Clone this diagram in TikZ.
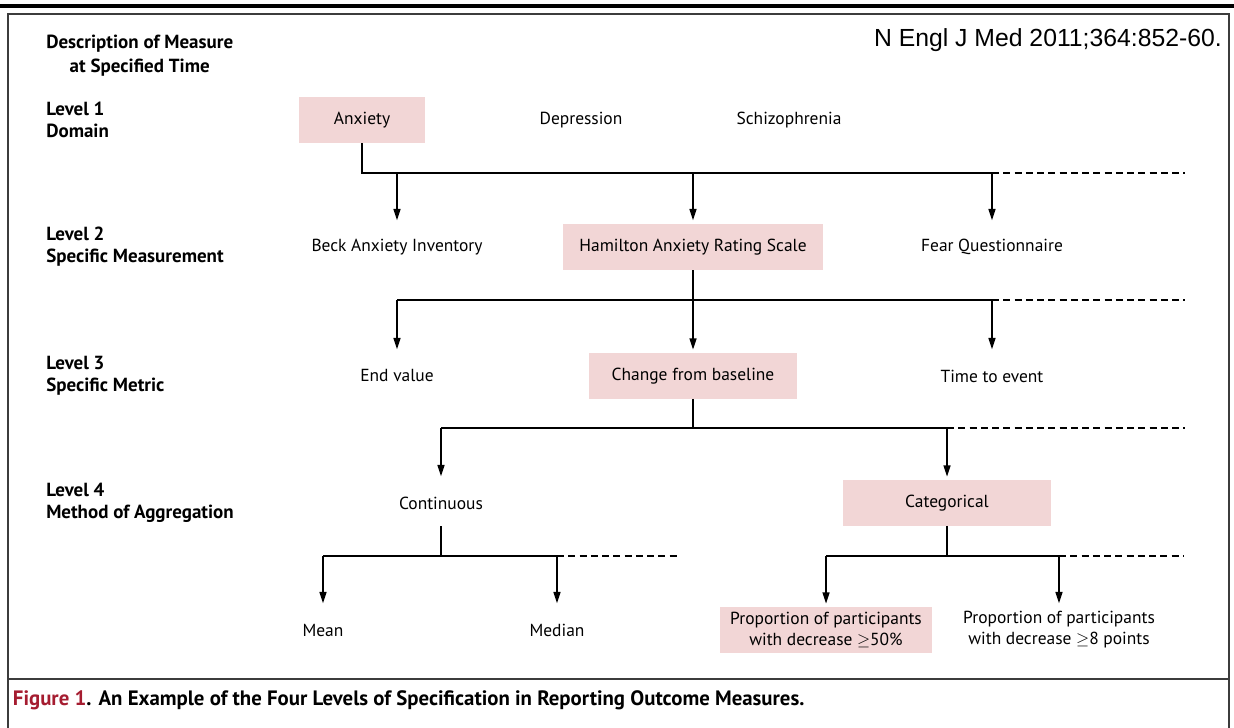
\documentclass[tikz,border=0pt]{standalone}
\usepackage{fontspec}
\setmainfont{PT Sans}
\newfontfamily\citefont{Liberation Sans}
\usetikzlibrary{arrows.meta, positioning}
\definecolor{boxpink}{RGB}{242,214,214}
\definecolor{figred}{RGB}{165,28,48}
\definecolor{framegray}{RGB}{60,60,60}

\begin{document}
\begin{tikzpicture}[x=0.025cm, y=-0.025cm,
        chosen/.style={fill=boxpink, minimum height=1.15cm, font=\fontsize{12.4}{15}\selectfont},
        other/.style={minimum height=1.15cm, font=\fontsize{12.4}{15}\selectfont},
        lvl/.style={anchor=west, align=left, inner sep=0pt, font=\bfseries\fontsize{13.5}{15.5}\selectfont},
        arr/.style={-{Triangle[length=8pt, width=5pt]}, line width=1pt, shorten >=2.5pt},
        link/.style={line width=1pt},
        more/.style={line width=0.9pt, dash pattern=on 5pt off 3pt}]
        \useasboundingbox (0,0) rectangle (1234,728);

        % rule and frame
        \draw[line width=2.2pt] (0,6) -- (1234,6);
        \draw[framegray, line width=1.2pt] (8,728) -- (8,14) -- (1229,14) -- (1229,728);
        \draw[framegray, line width=1.2pt] (8,679) -- (1229,679);

        \node[lvl, align=center, font=\bfseries\fontsize{13.5}{17}\selectfont] (desc) at (46,56) {Description of Measure\\at Specified Time};
        \node[anchor=east, inner sep=0pt, font=\citefont\fontsize{17.6}{20}\selectfont] (cite) at (1222,40) {N Engl J Med 2011;364:852-60.};

        \node[lvl] (lv1) at (46,120) {Level 1\\Domain};
        \node[lvl] (lv2) at (46,247) {Level 2\\Specific Measurement};
        \node[lvl] (lv3) at (46,376) {Level 3\\Specific Metric};
        \node[lvl] (lv4) at (46,503) {Level 4\\Method of Aggregation};

        % level 1
        \node[chosen, minimum width=3.125cm] (anx) at (362,120) {Anxiety};
        \node[other] (dep) at (581,120) {Depression};
        \node[other] (sch) at (789,120) {Schizophrenia};

        % level 2
        \node[other] (bai) at (397,247) {Beck Anxiety Inventory};
        \node[chosen, minimum width=6.5cm] (ham) at (693,247) {Hamilton Anxiety Rating Scale};
        \node[other] (fq) at (992,247) {Fear Questionnaire};

        % level 3
        \node[other] (endv) at (397,376) {End value};
        \node[chosen, minimum width=5.18cm, minimum height=1.13cm] (cfb) at (693,376) {Change from baseline};
        \node[other] (tte) at (992,376) {Time to event};

        % level 4
        \node[other] (cont) at (441,503) {Continuous};
        \node[chosen, minimum width=5.2cm, minimum height=1.13cm] (cat) at (947,503) {Categorical};

        % results
        \node[other] (mean) at (323,630) {Mean};
        \node[other] (median) at (557,630) {Median};
        \node[chosen, align=center, minimum width=5.3cm, minimum height=1.13cm, inner sep=1pt] (p50) at (826,630) {Proportion of participants\\with decrease $\geq$50\%};
        \node[other, align=center, inner sep=1pt] (p8) at (1059,630) {Proportion of participants\\with decrease $\geq$8 points};

        \node[anchor=west, font=\bfseries\fontsize{14.8}{17}\selectfont] (cap) at (8,700) {\textcolor{figred}{Figure 1}. An Example of the Four Levels of Specification in Reporting Outcome Measures.};

        \coordinate (end1) at (1185,173);
        \coordinate (end2) at (1185,300);
        \coordinate (end3) at (1185,428);
        \coordinate (end4a) at (679,556);
        \coordinate (end4b) at (1183,556);

        \draw[link] (anx.south) |- (fq |- end1);
        \draw[more] (fq |- end1) -- (end1);
        \draw[arr] (bai |- end1) -- (bai);
        \draw[arr] (ham |- end1) -- (ham);
        \draw[arr] (fq |- end1) -- (fq);

        \draw[link] (ham.south) -- (ham |- end2)
            (endv |- end2) -- (tte |- end2);
        \draw[more] (tte |- end2) -- (end2);
        \draw[arr] (endv |- end2) -- (endv);
        \draw[arr] (cfb |- end2) -- (cfb);
        \draw[arr] (tte |- end2) -- (tte);

        \draw[link] (cfb.south) -- (cfb |- end3)
            (cont |- end3) -- (cat |- end3);
        \draw[more] (cat |- end3) -- (end3);
        \draw[arr] (cont |- end3) -- (cont);
        \draw[arr] (cat |- end3) -- (cat);

        \draw[link] (cont.south) -- (cont |- end4a)
            (mean |- end4a) -- (median |- end4a);
        \draw[more] (median |- end4a) -- (end4a);
        \draw[arr] (mean |- end4a) -- (mean);
        \draw[arr] (median |- end4a) -- (median);

        \draw[link] (cat.south) -- (cat |- end4b)
            (p50 |- end4b) -- (p8 |- end4b);
        \draw[more] (p8 |- end4b) -- (end4b);
        \draw[arr] (p50 |- end4b) -- (p50);
        \draw[arr] (p8 |- end4b) -- (p8);
\end{tikzpicture}
\end{document}
